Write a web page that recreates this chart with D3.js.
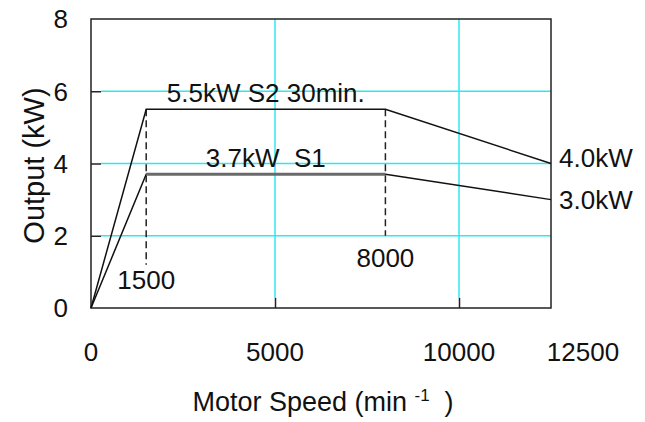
<!DOCTYPE html>
<html>
<head>
<meta charset="utf-8">
<script src="https://cdn.jsdelivr.net/npm/d3@7"></script>
<style>
  body { margin: 0; background: #fff; }
  svg text { font-family: "Liberation Sans", Arial, sans-serif; fill: #111; }
</style>
</head>
<body>
<svg id="chart"></svg>
<script>
// Chart data
var speed = [0, 1500, 8000, 12500];
var s2Output = [0, 5.5, 5.5, 4.0];
var s1Output = [0, 3.7, 3.7, 3.0];
var xTicks = [0, 5000, 10000, 12500];
var yTicks = [0, 2, 4, 6, 8];
var xGrid = [5000, 10000];
var yGrid = [2, 4, 6];
// dashed markers: speed, top and bottom output, label
var markSpeed = [1500, 8000];
var markTop = [5.5, 5.5];
var markBottom = [1.2, 2.0];
var markLabel = ['1500', '8000'];
var endLabels = ['4.0kW', '3.0kW'];

var width = 645, height = 422;
var margin = {left: 91, right: 94, top: 19, bottom: 114};
var fs = 26;

var svg = d3.select('#chart')
    .attr('width', width)
    .attr('height', height);

var x = d3.scaleLinear().domain([0, 12500]).range([margin.left, width - margin.right]);
var y = d3.scaleLinear().domain([0, 8]).range([height - margin.bottom, margin.top]);

var cyan = '#2ee8ee';
var tickLen = 10;

// Grid lines
svg.selectAll('.hgrid')
    .data(yGrid)
    .enter()
    .append('line')
    .attr('x1', x(0) + tickLen)
    .attr('x2', x(12500))
    .attr('y1', d => y(d))
    .attr('y2', d => y(d))
    .attr('stroke', cyan)
    .attr('stroke-width', 1.5);

svg.selectAll('.vgrid')
    .data(xGrid)
    .enter()
    .append('line')
    .attr('x1', d => x(d))
    .attr('x2', d => x(d))
    .attr('y1', y(8))
    .attr('y2', y(0) - tickLen)
    .attr('stroke', cyan)
    .attr('stroke-width', 1.5);

// Axes (inward ticks, labels drawn separately)
svg.append('g')
    .attr('transform', `translate(0, ${y(0)})`)
    .call(d3.axisBottom(x).tickValues(xGrid).tickSizeInner(-tickLen).tickSizeOuter(0).tickFormat(''));
svg.append('g')
    .attr('transform', `translate(${x(0)}, 0)`)
    .call(d3.axisLeft(y).tickValues(yGrid).tickSizeInner(-tickLen).tickSizeOuter(0).tickFormat(''));
svg.selectAll('.domain').remove();
svg.selectAll('.tick line').attr('stroke', '#222').attr('stroke-width', 1.5);

// Frame
svg.append('rect')
    .attr('x', x(0))
    .attr('y', y(8))
    .attr('width', x(12500) - x(0))
    .attr('height', y(0) - y(8))
    .attr('fill', 'none')
    .attr('stroke', '#222')
    .attr('stroke-width', 1.5);

// Tick labels
svg.selectAll('.ylab')
    .data(yTicks)
    .enter()
    .append('text')
    .attr('x', x(0) - 23)
    .attr('y', d => y(d))
    .attr('dy', '0.36em')
    .attr('text-anchor', 'end')
    .style('font-size', fs + 'px')
    .text(d => d);

svg.selectAll('.xlab')
    .data(xTicks)
    .enter()
    .append('text')
    .attr('x', d => x(d) + (d === 12500 ? 32 : 0))
    .attr('y', y(0) + 44)
    .attr('dy', '0.36em')
    .attr('text-anchor', 'middle')
    .style('font-size', fs + 'px')
    .text(d => d);

// Dashed markers
svg.selectAll('.mark')
    .data(markSpeed)
    .enter()
    .append('line')
    .attr('x1', d => x(d))
    .attr('x2', d => x(d))
    .attr('y1', (d, i) => y(markTop[i]))
    .attr('y2', (d, i) => y(markBottom[i]))
    .attr('stroke', '#222')
    .attr('stroke-width', 1.5)
    .attr('stroke-dasharray', '7,4');

svg.selectAll('.marklab')
    .data(markSpeed)
    .enter()
    .append('text')
    .attr('x', d => x(d))
    .attr('y', (d, i) => y(markBottom[i]) + (i === 0 ? 15 : 22))
    .attr('dy', '0.36em')
    .attr('text-anchor', 'middle')
    .style('font-size', fs + 'px')
    .text((d, i) => markLabel[i]);

// Output curves
var line = d3.line()
    .x(d => x(d[0]))
    .y(d => y(d[1]));

svg.append('path')
    .datum(speed.map((s, i) => [s, s2Output[i]]))
    .attr('d', line)
    .attr('fill', 'none')
    .attr('stroke', '#111')
    .attr('stroke-width', 1.5);

svg.append('path')
    .datum(speed.map((s, i) => [s, s1Output[i]]))
    .attr('d', line)
    .attr('fill', 'none')
    .attr('stroke', '#111')
    .attr('stroke-width', 1.5);

// S1 flat part is drawn heavier
svg.append('path')
    .datum([[speed[1], s1Output[1]], [speed[2], s1Output[2]]])
    .attr('d', line)
    .attr('fill', 'none')
    .attr('stroke', '#6a6a6a')
    .attr('stroke-width', 3);

// Curve labels
svg.append('text')
    .attr('x', x(4750))
    .attr('y', y(5.5) - 7)
    .attr('text-anchor', 'middle')
    .style('font-size', fs + 'px')
    .text('5.5kW S2 30min.');

svg.append('text')
    .attr('x', x(4750))
    .attr('y', y(3.7) - 7)
    .attr('text-anchor', 'middle')
    .style('font-size', fs + 'px')
    .text('3.7kW\u00a0\u00a0S1');

svg.selectAll('.endlab')
    .data([s2Output[3], s1Output[3]])
    .enter()
    .append('text')
    .attr('x', x(12500) + 8)
    .attr('y', (d, i) => y(d) + (i === 0 ? -6 : 0))
    .attr('dy', '0.36em')
    .style('font-size', fs + 'px')
    .text((d, i) => endLabels[i]);

// Axis titles
var xt = svg.append('text')
    .attr('x', 323)
    .attr('y', 411)
    .attr('text-anchor', 'middle')
    .style('font-size', '27px');
xt.append('tspan').text('Motor Speed (min ');
xt.append('tspan').attr('dy', -10).style('font-size', '17px').text('-1');
xt.append('tspan').attr('dy', 10).text('\u00a0\u00a0)');

svg.append('text')
    .attr('transform', `translate(44, ${(y(0) + y(8)) / 2 + 2}) rotate(-90)`)
    .attr('text-anchor', 'middle')
    .style('font-size', '29px')
    .text('Output (kW)');
</script>
</body>
</html>
